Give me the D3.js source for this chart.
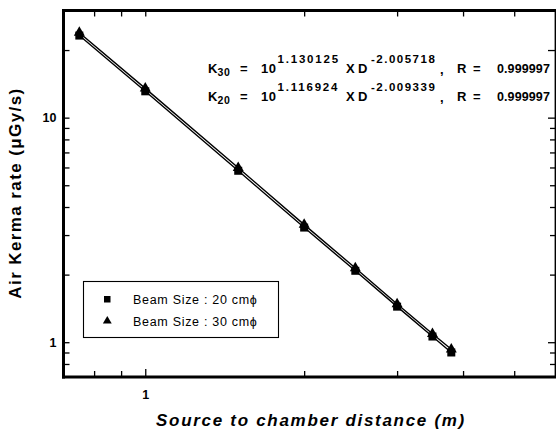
<!DOCTYPE html>
<html><head><meta charset="utf-8">
<script src="https://cdn.jsdelivr.net/npm/d3@7/dist/d3.min.js"></script>
<style>
html,body{margin:0;padding:0;background:#fff;}
svg{display:block;font-family:"Liberation Sans",Arial,Helvetica,sans-serif;}
</style></head>
<body>
<svg id="chart" width="556" height="434"></svg>
<script>
// ---- data ----
const distances = [0.75, 1, 1.5, 2, 2.5, 3, 3.5, 3.8];           // m
const kerma20   = [23.2, 13.1, 5.80, 3.24, 2.08, 1.44, 1.06, 0.90]; // µGy/s, 20 cmϕ
const kerma30   = [23.9, 13.5, 5.98, 3.34, 2.14, 1.48, 1.09, 0.93]; // µGy/s, 30 cmϕ
const xTicks = [0.8, 0.9, 1, 2, 3, 4, 5];
const yTicks = [0.8, 0.9, 1, 2, 3, 4, 5, 6, 7, 8, 9, 10, 20];
const xTickLabels = [1];
const yTickLabels = [1, 10];
const seriesNames = ["Beam Size : 20 cm\u03D5", "Beam Size : 30 cm\u03D5"];
const fitNames = ["30", "20"];
const fitIntercepts = ["1.130125", "1.116924"];
const fitSlopes = ["-2.005718", "-2.009339"];
const fitR = ["0.999997", "0.999997"];
const xTitle = "Source to chamber distance (m)";
const yTitle = "Air Kerma rate (\u03BCGy/s)";

// ---- layout ----
const svg = d3.select("#chart");
const L = 63.5, R = 556, T = 10.5, B = 377;
const x = d3.scaleLog().domain([0.7, 6]).range([L, R]);
const y = d3.scaleLog().domain([0.7, 30]).range([B, T]);

// axes (ticks inward)
const fmtX = d => xTickLabels.includes(d) ? String(d) : "";
const fmtY = d => yTickLabels.includes(d) ? String(d) : "";

const gB = svg.append("g").attr("transform", `translate(0,${B})`)
  .call(d3.axisBottom(x).tickValues(xTicks).tickSize(-6).tickPadding(13).tickFormat(fmtX));
const gT = svg.append("g").attr("transform", `translate(0,${T})`)
  .call(d3.axisTop(x).tickValues(xTicks).tickSize(-6).tickFormat(""));
const gL = svg.append("g").attr("transform", `translate(${L},0)`)
  .call(d3.axisLeft(y).tickValues(yTicks).tickSize(-6).tickPadding(7).tickFormat(fmtY));
const gR = svg.append("g").attr("transform", `translate(${R-1},0)`)
  .call(d3.axisRight(y).tickValues(yTicks).tickSize(-5).tickFormat(""));

[gB, gT, gL, gR].forEach(g => {
  g.select(".domain").remove();
  g.selectAll(".tick line").attr("stroke", "#000").attr("stroke-width", 1.3);
  g.selectAll(".tick text").attr("fill", "#000").attr("font-size", 12.5)
    .attr("font-weight", "bold").attr("font-family", "'Liberation Sans',Arial,sans-serif");
});
gB.selectAll(".tick line").attr("y2", d => d === 1 ? -8 : -6);
gR.selectAll(".tick line").attr("x2", d => (d === 10 || d === 20 || d === 1) ? -7 : -5);

// frame
svg.append("line").attr("x1", L).attr("x2", L).attr("y1", T - 1.5).attr("y2", B + 1.5)
  .attr("stroke", "#000").attr("stroke-width", 3);
svg.append("line").attr("x1", L - 1.5).attr("x2", R).attr("y1", B).attr("y2", B)
  .attr("stroke", "#000").attr("stroke-width", 3);
svg.append("line").attr("x1", L - 1.5).attr("x2", R).attr("y1", T).attr("y2", T)
  .attr("stroke", "#000").attr("stroke-width", 3);
svg.append("line").attr("x1", R - 0.7).attr("x2", R - 0.7).attr("y1", T).attr("y2", B)
  .attr("stroke", "#000").attr("stroke-width", 1.4);

// series lines
const line = d3.line().x(d => x(d[0])).y(d => y(d[1]));
const s20 = distances.map((d, i) => [d, kerma20[i]]);
const s30 = distances.map((d, i) => [d, kerma30[i]]);
[s20, s30].forEach(s => {
  svg.append("path").datum(s).attr("d", line).attr("fill", "none")
    .attr("stroke", "#000").attr("stroke-width", 1.4);
});

// markers
svg.append("g").selectAll("rect").data(s20).join("rect")
  .attr("x", d => x(d[0]) - 4).attr("y", d => y(d[1]) - 4)
  .attr("width", 8).attr("height", 8).attr("fill", "#000");
const tri = d3.symbol().type(d3.symbolTriangle).size(52);
svg.append("g").selectAll("path").data(s30).join("path")
  .attr("d", tri).attr("transform", d => `translate(${x(d[0])},${y(d[1])})`).attr("fill", "#000");

// fit equations
const eq = svg.append("g").attr("fill", "#000").attr("font-weight", "bold");
[73, 101].forEach((by, i) => {
  const t = (xx, yy, s, fs, ls) => eq.append("text").attr("x", xx).attr("y", yy)
    .attr("font-size", fs).attr("letter-spacing", ls || 0).text(s);
  t(208, by, "K", 13);
  t(217.5, by + 3, fitNames[i], 10.5, 0.6);
  t(240, by, "=", 13);
  t(261, by, "10", 13, 0.6);
  t(277.5, by - 10, fitIntercepts[i], 11.5, 1.8);
  t(346, by, "X", 13);
  t(358, by, "D", 13);
  t(371, by - 10, fitSlopes[i], 11.5, 1.5);
  t(440, by + 1, ",", 13);
  t(457, by, "R", 13);
  t(473, by, "=", 13);
  t(497, by, fitR[i], 12.5, 0.1);
});

// legend
const lg = svg.append("g");
lg.append("rect").attr("x", 83.5).attr("y", 281.5).attr("width", 195).attr("height", 56)
  .attr("fill", "#fff").attr("stroke", "#000").attr("stroke-width", 1.1);
lg.append("rect").attr("x", 104).attr("y", 296).attr("width", 6.5).attr("height", 6.5).attr("fill", "#000");
lg.append("path").attr("d", d3.symbol().type(d3.symbolTriangle).size(34))
  .attr("transform", "translate(107.3,321)").attr("fill", "#000");
seriesNames.forEach((s, i) => {
  lg.append("text").attr("x", 133).attr("y", 304 + i * 22).attr("font-size", 12.5)
    .attr("letter-spacing", 0.7).attr("fill", "#000").text(s);
});

// axis titles
svg.append("text").attr("x", 311).attr("y", 426).attr("text-anchor", "middle")
  .attr("font-size", 17).attr("font-weight", "bold").attr("font-style", "italic")
  .attr("letter-spacing", 1.7).attr("fill", "#000").text(xTitle);
svg.append("text").attr("transform", "translate(21,193) rotate(-90)").attr("text-anchor", "middle")
  .attr("font-size", 17).attr("font-weight", "bold")
  .attr("letter-spacing", 1.4).attr("fill", "#000").text(yTitle);
</script>
</body></html>
